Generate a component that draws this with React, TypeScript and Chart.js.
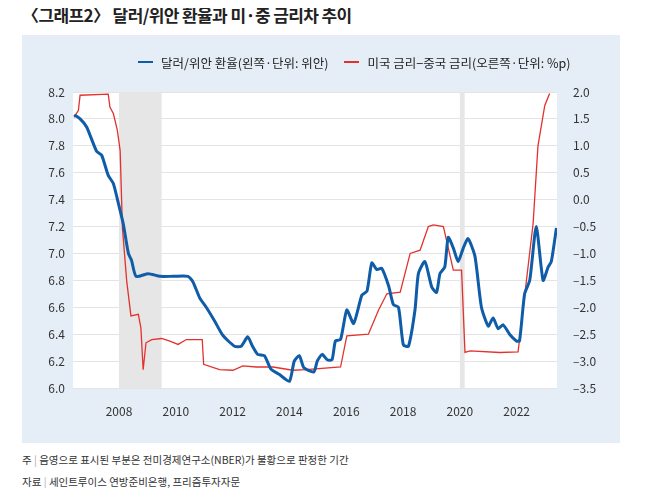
import React, { useEffect, useRef } from "react";
import { Chart, registerables } from "chart.js";
Chart.register(...registerables);

const fxYears = [2006.42,2006.63,2006.86,2007.21,2007.39,2007.62,2007.8,2007.98,2008.15,2008.33,2008.44,2008.6,2009.03,2009.44,2009.9,2010.43,2010.6,2010.84,2011.07,2011.36,2011.66,2012.07,2012.3,2012.53,2012.7,2012.88,2013.12,2013.35,2013.65,2014.0,2014.17,2014.35,2014.51,2014.86,2014.98,2015.15,2015.33,2015.5,2015.62,2015.8,2016.02,2016.26,2016.55,2016.73,2016.9,2017.08,2017.25,2017.49,2017.66,2017.84,2018.01,2018.19,2018.42,2018.54,2018.77,2019.01,2019.18,2019.3,2019.47,2019.59,2019.77,2019.94,2020.12,2020.29,2020.53,2020.76,2021.0,2021.17,2021.35,2021.52,2021.75,2021.99,2022.1,2022.28,2022.46,2022.69,2022.93,2023.11,2023.22,2023.4];
const fxValues = [8.03,8.0,7.94,7.76,7.73,7.58,7.52,7.37,7.22,7.0,6.95,6.83,6.85,6.83,6.83,6.83,6.79,6.67,6.6,6.5,6.39,6.31,6.31,6.38,6.31,6.25,6.24,6.14,6.1,6.05,6.2,6.24,6.15,6.12,6.2,6.25,6.21,6.21,6.35,6.36,6.58,6.48,6.69,6.72,6.93,6.88,6.89,6.76,6.62,6.6,6.32,6.31,6.58,6.85,6.94,6.75,6.71,6.85,6.9,7.12,7.04,6.94,7.04,7.11,6.98,6.6,6.46,6.52,6.44,6.47,6.4,6.35,6.35,6.7,6.8,7.2,6.8,6.9,6.94,7.19];

const spreadYears = [2006.42,2006.57,2006.63,2007.62,2007.68,2007.8,2007.94,2008.04,2008.12,2008.27,2008.42,2008.68,2008.77,2008.85,2008.95,2009.15,2009.5,2009.79,2010.08,2010.37,2010.93,2010.98,2011.54,2012.01,2012.36,2012.83,2013.42,2014.12,2014.59,2015.8,2016.02,2016.78,2017.13,2017.43,2017.9,2018.25,2018.6,2018.89,2019.07,2019.42,2019.77,2020.06,2020.18,2020.36,2021.41,2022.05,2022.58,2022.75,2022.99,2023.16];
const spreadValues = [1.53,1.66,1.94,1.96,1.72,1.6,1.29,0.91,-0.52,-1.51,-2.16,-2.13,-2.38,-3.16,-2.66,-2.6,-2.58,-2.63,-2.69,-2.6,-2.6,-3.06,-3.16,-3.17,-3.09,-3.11,-3.11,-3.17,-3.16,-3.11,-2.53,-2.5,-2.06,-1.75,-1.72,-1.0,-0.94,-0.5,-0.47,-0.5,-1.31,-1.31,-2.84,-2.81,-2.84,-2.83,-0.44,1.0,1.75,1.97];

const recessions = [[2008.0, 2009.5], [2020.0, 2020.17]];
const xTicks = [2008, 2010, 2012, 2014, 2016, 2018, 2020, 2022];

const FONT = "'Noto Sans CJK KR', 'Noto Sans', sans-serif";

const bgPlugin = {
  id: "bgShade",
  beforeDatasetsDraw(chart: any) {
    const { ctx, chartArea: a, scales } = chart;
    ctx.save();
    ctx.fillStyle = "#e6e6e6";
    for (const [s, e] of recessions) {
      const x1 = scales.x.getPixelForValue(s);
      const x2 = scales.x.getPixelForValue(e);
      ctx.fillRect(x1, a.top, x2 - x1, a.bottom - a.top);
    }
    ctx.restore();
  },
  beforeDraw(chart: any) {
    const { ctx, chartArea: a } = chart;
    ctx.save();
    ctx.fillStyle = "#ffffff";
    ctx.fillRect(a.left, a.top, a.right - a.left, a.bottom - a.top);
    ctx.restore();
  },
};

export default function App() {
  const ref = useRef<HTMLCanvasElement>(null);
  useEffect(() => {
    const chart = new Chart(ref.current!, {
      type: "line",
      data: {
        datasets: [
          {
            label: "달러/위안 환율",
            data: fxYears.map((x, i) => ({ x, y: fxValues[i] })),
            borderColor: "#0f5ca8",
            borderWidth: 3,
            pointRadius: 0,
            yAxisID: "y",
            tension: 0.2,
          },
          {
            label: "미국 금리-중국 금리",
            data: spreadYears.map((x, i) => ({ x, y: spreadValues[i] })),
            borderColor: "#e3312d",
            borderWidth: 1.3,
            pointRadius: 0,
            yAxisID: "y1",
          },
        ],
      },
      plugins: [bgPlugin],
      options: {
        animation: false,
        responsive: false,
        layout: { padding: { top: 57, bottom: 22 } },
        plugins: { legend: { display: false }, tooltip: { enabled: false } },
        scales: {
          x: {
            type: "linear",
            min: 2006.38,
            max: 2023.42,
            afterBuildTicks: (s: any) => { s.ticks = xTicks.map((v) => ({ value: v })); },
            afterFit: (s: any) => { s.height = 33; },
            grid: { display: false },
            border: { display: false },
            ticks: { color: "#333", font: { family: FONT, size: 12 }, callback: (v: any) => String(v), padding: 8 },
          },
          y: {
            position: "left",
            min: 6.0,
            max: 8.2,
            afterFit: (s: any) => { s.width = 51; },
            grid: { color: "#e4e4e4", drawTicks: false },
            border: { display: false },
            ticks: { stepSize: 0.2, color: "#333", font: { family: FONT, size: 12 }, padding: 8, callback: (v: any) => Number(v).toFixed(1) },
          },
          y1: {
            position: "right",
            min: -3.5,
            max: 2.0,
            afterFit: (s: any) => { s.width = 63; },
            grid: { display: false },
            border: { display: false },
            ticks: { stepSize: 0.5, color: "#333", font: { family: FONT, size: 12 }, padding: 8, callback: (v: any) => Number(v).toFixed(1).replace("-", "–") },
          },
        },
      },
    });
    return () => chart.destroy();
  }, []);

  const legendItem = (color: string, text: string) => (
    <span style={{ display: "inline-flex", alignItems: "center", marginRight: 16 }}>
      <span style={{ display: "inline-block", width: 15, height: 2, background: color, marginRight: 8 }} />
      {text}
    </span>
  );

  return (
    <div style={{ position: "relative", width: 650, height: 496, fontFamily: FONT, margin: -8, background: "#fff" }}>
      <div style={{ position: "absolute", left: 22, top: 2, fontSize: 17, fontWeight: 700, color: "#222", letterSpacing: -0.6 }}>
        〈그래프2〉 달러/위안 환율과 미·중 금리차 추이
      </div>
      <div style={{ position: "absolute", left: 22, top: 35, width: 598, height: 408, background: "#e5eef6" }}>
        <canvas ref={ref} width={598} height={408} style={{ position: "absolute", left: 0, top: 0 }} />
        <div style={{ position: "absolute", left: 116, top: 13, fontSize: 12.5, color: "#222", whiteSpace: "nowrap" }}>
          {legendItem("#0f5ca8", "달러/위안 환율(왼쪽·단위: 위안)")}
          {legendItem("#e3312d", "미국 금리−중국 금리(오른쪽·단위: %p)")}
        </div>
      </div>
      <div style={{ position: "absolute", left: 22, top: 452, fontSize: 10.5, color: "#333" }}>
        주 <span style={{ color: "#aaa" }}>|</span> 음영으로 표시된 부분은 전미경제연구소(NBER)가 불황으로 판정한 기간
      </div>
      <div style={{ position: "absolute", left: 22, top: 474, fontSize: 10.5, color: "#333" }}>
        자료 <span style={{ color: "#aaa" }}>|</span> 세인트루이스 연방준비은행, 프리즘투자자문
      </div>
    </div>
  );
}
